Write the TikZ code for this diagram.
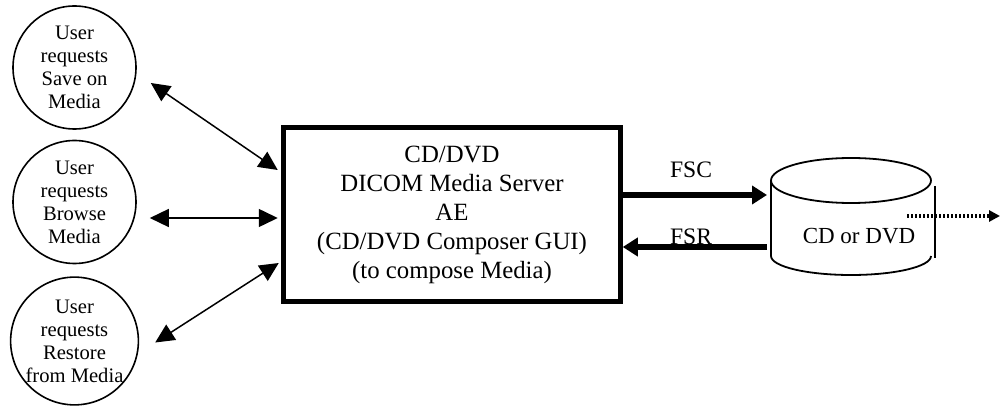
\documentclass[tikz,border=0pt]{standalone}
\usepackage{fontspec}
\setmainfont{Liberation Serif}
\usetikzlibrary{arrows.meta}
\usetikzlibrary{positioning}
\usetikzlibrary{calc}
\newcommand{\unode}[3]{\node(#1)[user] at (#2){#3}}
\newcommand{\lnode}[3]{\node(#1)[flowlabel] at (#2){#3}}

\begin{document}
\begin{tikzpicture}[
        x=0.5pt, y=-0.5pt,
        every node/.style={font=\fontsize{11.5}{14}\selectfont},
        user/.style={circle,draw=black,line width=0.8pt,minimum size=61.5pt,
                     inner sep=0pt,align=center,font=\fontsize{10.3}{11.5}\selectfont},
        server/.style={rectangle,draw=black,line width=2.5pt,minimum width=168.25pt,
                       minimum height=87pt,align=center,font=\fontsize{12.4}{14.5}\selectfont},
        flowlabel/.style={anchor=base,inner sep=0pt,font=\fontsize{11.8}{14}\selectfont},
        link/.style={line width=0.75pt,
                     {Triangle[length=9.5pt,width=9pt]}-{Triangle[length=9.5pt,width=9pt]}},
        fat/.style={line width=3.25pt,-{Triangle[length=7.5pt,width=9pt]}},
        disc/.style={line width=0.9pt}
      ]
      \useasboundingbox (0,0) rectangle (1006,406);

      \unode{save}{74.5,67.5}{User\\requests\\Save on\\Media};
      \unode{browse}{74.5,202}{User\\requests\\Browse\\Media};
      \unode{restore}{74.5,341}{User\\requests\\Restore\\from Media};

      \node(server)[server] at (452,214.5){CD/DVD\\DICOM Media Server\\AE\\(CD/DVD Composer GUI)\\(to compose Media)};

      \draw[disc] (851,180.5) ellipse [x radius=40pt, y radius=11.25pt];
      \draw[disc] (771,180.5) -- (771,256) arc[start angle=180, end angle=360, x radius=40pt, y radius=9.5pt];
      \draw[disc] (935,186) -- (935,258);
      \node(cd) at (859,236){CD or DVD};

      \lnode{fsc}{691,178}{FSC};
      \lnode{fsr}{691,245}{FSR};

      \coordinate (cdin) at (767,195);
      \coordinate (cdback) at (767,247);
      \coordinate (cdout) at (907,216);
      \coordinate (cdend) at (1000,216);

      \draw[link] ([shift={(14,15.5)}]save.east) -- ([shift={(-3.5,-44.5)}]server.west);
      \draw[link] ([shift={(13,16)}]browse.east) -- ([shift={(-3.5,3.5)}]server.west);
      \draw[link] ([shift={(16,1.5)}]restore.east) -- ([shift={(-2.5,48.5)}]server.west);

      \draw[fat] (server.east |- cdin) -- (cdin);
      \draw[fat] (cdback) -- (server.east |- cdback);
      \draw[line width=1.6pt,dash pattern=on 1.2pt off 0.8pt,-{Triangle[length=5.5pt,width=5.5pt]}] (cdout) -- (cdend);
    \end{tikzpicture}
\end{document}
